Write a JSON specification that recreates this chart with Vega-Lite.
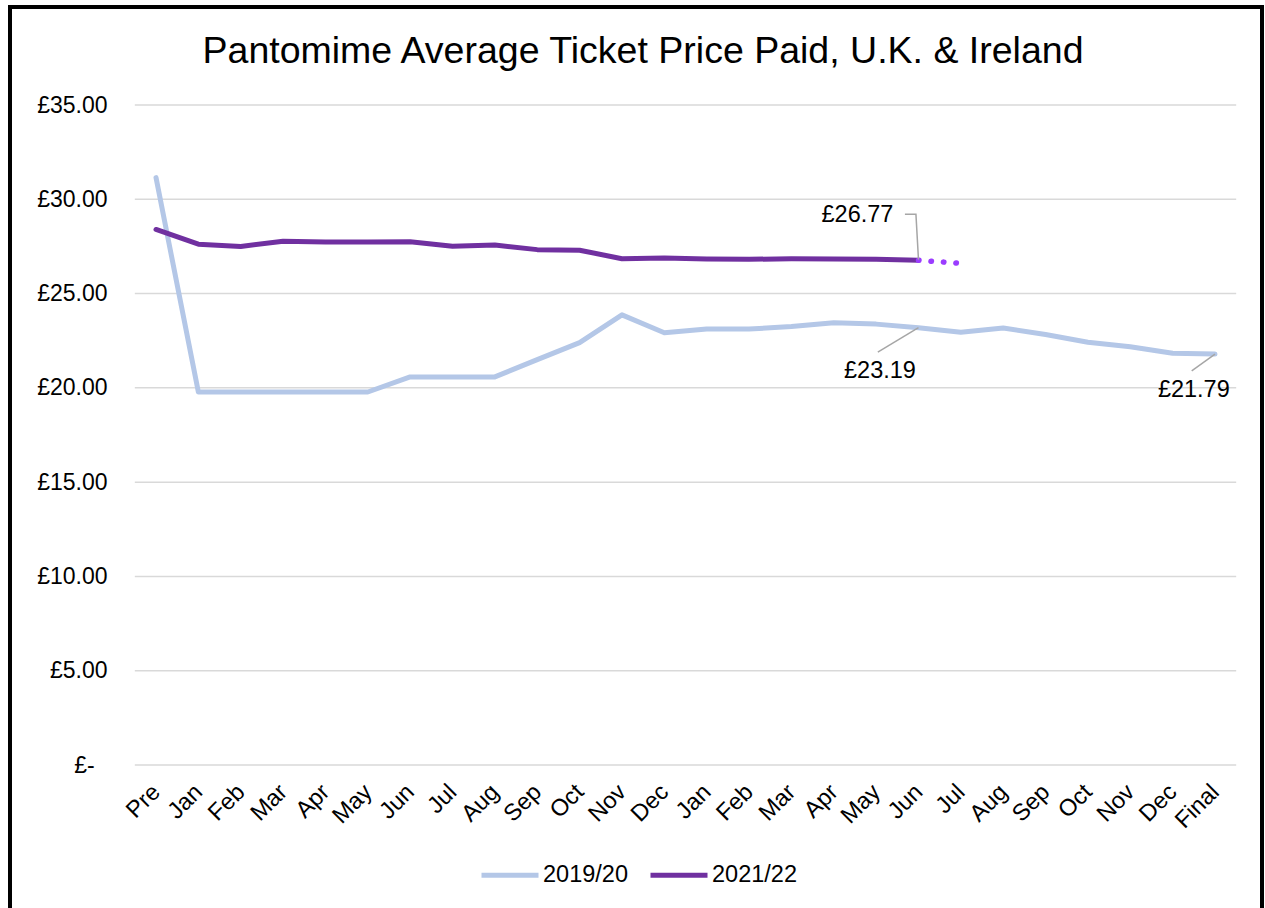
{
  "$schema": "https://vega.github.io/schema/vega-lite/v6.json",
  "width": 1252,
  "height": 910,
  "autosize": {"type": "none"},
  "padding": {"left": 10, "top": 7, "right": 3, "bottom": 0},
  "background": "white",
  "config": {
    "font": "Liberation Sans",
    "view": {"stroke": "black", "strokeWidth": 4}
  },
  "title": {
    "text": "Pantomime Average Ticket Price Paid, U.K. & Ireland",
    "fontSize": 37.5,
    "fontWeight": "normal",
    "color": "black",
    "anchor": "middle",
    "frame": "group",
    "baseline": "alphabetic",
    "offset": -93,
    "dx": 7
  },
  "datasets": {
    "series": [
      {"i": 0, "season": "2019/20", "v": 31.15},
      {"i": 1, "season": "2019/20", "v": 19.78},
      {"i": 2, "season": "2019/20", "v": 19.78},
      {"i": 3, "season": "2019/20", "v": 19.78},
      {"i": 4, "season": "2019/20", "v": 19.78},
      {"i": 5, "season": "2019/20", "v": 19.78},
      {"i": 6, "season": "2019/20", "v": 20.58},
      {"i": 7, "season": "2019/20", "v": 20.58},
      {"i": 8, "season": "2019/20", "v": 20.58},
      {"i": 9, "season": "2019/20", "v": 21.5},
      {"i": 10, "season": "2019/20", "v": 22.4},
      {"i": 11, "season": "2019/20", "v": 23.87},
      {"i": 12, "season": "2019/20", "v": 22.92},
      {"i": 13, "season": "2019/20", "v": 23.12},
      {"i": 14, "season": "2019/20", "v": 23.12},
      {"i": 15, "season": "2019/20", "v": 23.25},
      {"i": 16, "season": "2019/20", "v": 23.45},
      {"i": 17, "season": "2019/20", "v": 23.38},
      {"i": 18, "season": "2019/20", "v": 23.19},
      {"i": 19, "season": "2019/20", "v": 22.95},
      {"i": 20, "season": "2019/20", "v": 23.17},
      {"i": 21, "season": "2019/20", "v": 22.83},
      {"i": 22, "season": "2019/20", "v": 22.42},
      {"i": 23, "season": "2019/20", "v": 22.18},
      {"i": 24, "season": "2019/20", "v": 21.84},
      {"i": 25, "season": "2019/20", "v": 21.79},
      {"i": 0, "season": "2021/22", "v": 28.4},
      {"i": 1, "season": "2021/22", "v": 27.62},
      {"i": 2, "season": "2021/22", "v": 27.5},
      {"i": 3, "season": "2021/22", "v": 27.77},
      {"i": 4, "season": "2021/22", "v": 27.74},
      {"i": 5, "season": "2021/22", "v": 27.73},
      {"i": 6, "season": "2021/22", "v": 27.75},
      {"i": 7, "season": "2021/22", "v": 27.51},
      {"i": 8, "season": "2021/22", "v": 27.57},
      {"i": 9, "season": "2021/22", "v": 27.33},
      {"i": 10, "season": "2021/22", "v": 27.3},
      {"i": 11, "season": "2021/22", "v": 26.85},
      {"i": 12, "season": "2021/22", "v": 26.88},
      {"i": 13, "season": "2021/22", "v": 26.83},
      {"i": 14, "season": "2021/22", "v": 26.82},
      {"i": 15, "season": "2021/22", "v": 26.84},
      {"i": 16, "season": "2021/22", "v": 26.83},
      {"i": 17, "season": "2021/22", "v": 26.82},
      {"i": 18, "season": "2021/22", "v": 26.77}
    ],
    "projection": [
      {"i": 18, "v": 26.77},
      {"i": 19, "v": 26.6}
    ],
    "grid": [
      {"i": -0.5, "i2": 25.5, "v": 0},
      {"i": -0.5, "i2": 25.5, "v": 5},
      {"i": -0.5, "i2": 25.5, "v": 10},
      {"i": -0.5, "i2": 25.5, "v": 15},
      {"i": -0.5, "i2": 25.5, "v": 20},
      {"i": -0.5, "i2": 25.5, "v": 25},
      {"i": -0.5, "i2": 25.5, "v": 30},
      {"i": -0.5, "i2": 25.5, "v": 35}
    ],
    "leaders": [
      {"id": "a", "ord": 0, "i": 17.68, "v": 29.2},
      {"id": "a", "ord": 1, "i": 17.94, "v": 29.2},
      {"id": "a", "ord": 2, "i": 18.0, "v": 26.8},
      {"id": "b", "ord": 0, "i": 17.04, "v": 21.9},
      {"id": "b", "ord": 1, "i": 18.0, "v": 23.19},
      {"id": "c", "ord": 0, "i": 24.45, "v": 20.9},
      {"id": "c", "ord": 1, "i": 25.0, "v": 21.79}
    ],
    "labels": [
      {"i": 16.56, "v": 29.17, "label": "£26.77"},
      {"i": 17.09, "v": 20.89, "label": "£23.19"},
      {"i": 24.5, "v": 19.89, "label": "£21.79"}
    ]
  },
  "encoding": {
    "x": {
      "field": "i",
      "type": "quantitative",
      "scale": {"domain": [0, 25], "range": [146, 1205], "nice": false, "zero": false},
      "axis": {
        "title": null,
        "values": [0,1,2,3,4,5,6,7,8,9,10,11,12,13,14,15,16,17,18,19,20,21,22,23,24,25],
        "labelExpr": "['Pre','Jan','Feb','Mar','Apr','May','Jun','Jul','Aug','Sep','Oct','Nov','Dec','Jan','Feb','Mar','Apr','May','Jun','Jul','Aug','Sep','Oct','Nov','Dec','Final'][datum.value]",
        "grid": false,
        "domain": false,
        "ticks": false,
        "tickSize": 0,
        "offset": -152,
        "labelAngle": -45,
        "labelAlign": "right",
        "labelBaseline": "middle",
        "labelPadding": 23,
        "labelFontSize": 23.5,
        "labelColor": "black",
        "labelOverlap": false,
        "labelBound": false,
        "labelFlush": false
      }
    },
    "y": {
      "field": "v",
      "type": "quantitative",
      "scale": {"domain": [0, 35], "range": [758, 98], "nice": false, "zero": false},
      "axis": {
        "title": null,
        "values": [0, 5, 10, 15, 20, 25, 30, 35],
        "labelExpr": "datum.value == 0 ? '£-\u00a0\u00a0\u200b' : '£' + format(datum.value, '.2f')",
        "grid": false,
        "domain": false,
        "ticks": false,
        "tickSize": 0,
        "offset": -97,
        "labelPadding": 0,
        "labelFontSize": 23,
        "labelColor": "black",
        "labelOverlap": false,
        "labelBound": false,
        "labelFlush": false
      }
    }
  },
  "layer": [
    {
      "data": {"name": "grid"},
      "mark": {"type": "rule", "color": "#d9d9d9", "strokeWidth": 1.5},
      "encoding": {"x2": {"field": "i2"}}
    },
    {
      "data": {"name": "series"},
      "mark": {"type": "line", "strokeWidth": 5, "strokeCap": "round", "strokeJoin": "round"},
      "encoding": {
        "color": {
          "field": "season",
          "type": "nominal",
          "scale": {"domain": ["2019/20", "2021/22"], "range": ["#b4c7e7", "#7030a0"]},
          "legend": {
            "title": null,
            "orient": "none",
            "direction": "horizontal",
            "legendX": 469,
            "legendY": 837,
            "padding": 0,
            "symbolType": "stroke",
            "symbolSize": 3249,
            "symbolStrokeWidth": 5,
            "labelFontSize": 23.5,
            "labelColor": "black",
            "labelOffset": 2,
            "columnPadding": 12
          }
        },
        "order": {"field": "i"}
      }
    },
    {
      "data": {"name": "projection"},
      "mark": {"type": "line", "color": "#9b3cff", "strokeWidth": 5.5, "strokeCap": "round", "strokeDash": [0.5, 12]},
      "encoding": {}
    },
    {
      "data": {"name": "leaders"},
      "mark": {"type": "line", "color": "#a6a6a6", "strokeWidth": 1.5},
      "encoding": {
        "detail": {"field": "id"},
        "order": {"field": "ord"}
      }
    },
    {
      "data": {"name": "labels"},
      "mark": {"type": "text", "fontSize": 23.5, "color": "black", "align": "center", "baseline": "middle"},
      "encoding": {"text": {"field": "label"}}
    }
  ]
}
